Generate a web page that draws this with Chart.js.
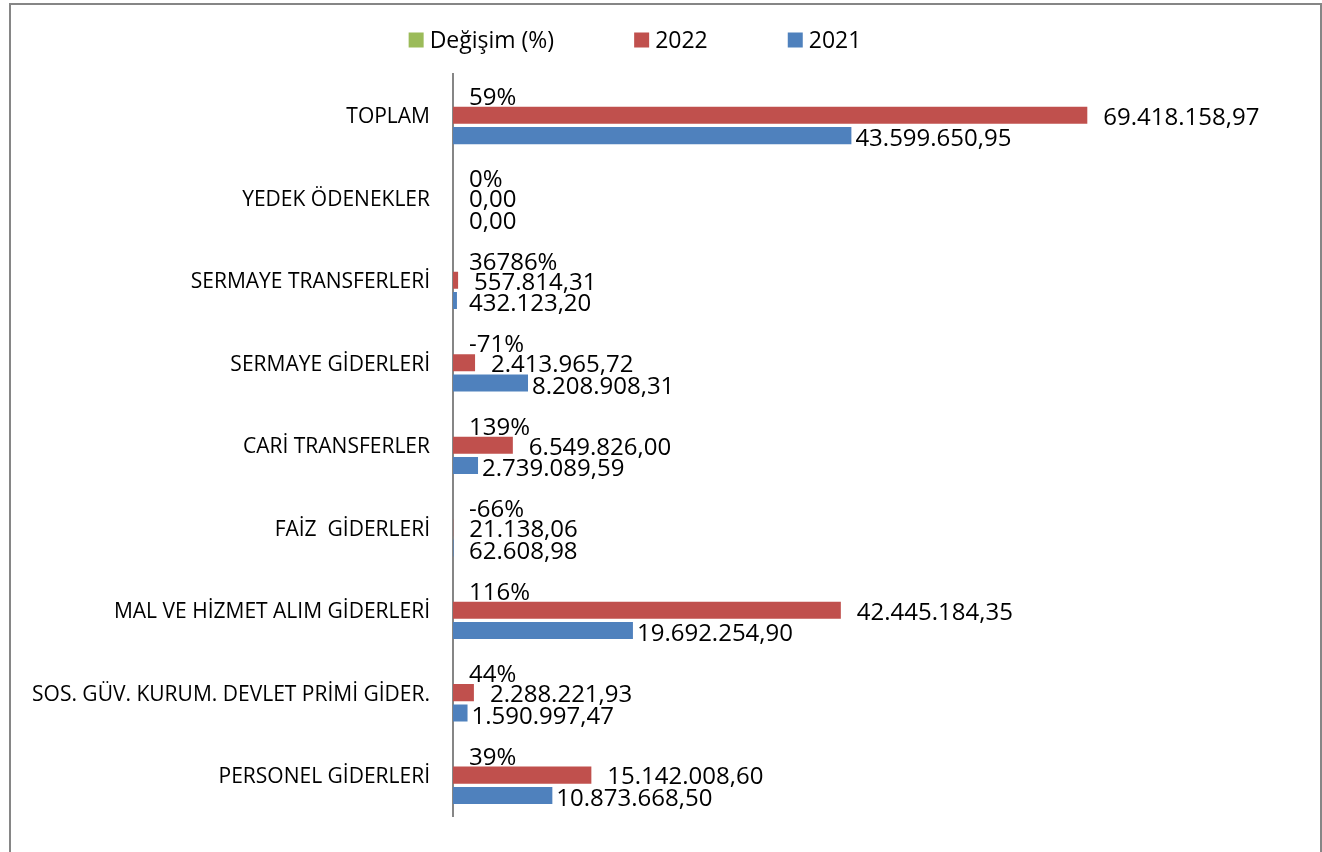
<!DOCTYPE html>
<html>
<head>
<meta charset="utf-8">
<script src="https://cdn.jsdelivr.net/npm/chart.js@4/dist/chart.umd.min.js"></script>
<style>
  html, body { margin: 0; padding: 0; background: #fff; }
  #wrap { position: relative; width: 1322px; height: 852px; overflow: hidden; }
  #frame { position: absolute; left: 9px; top: 3px; width: 1313px; height: 900px; box-sizing: border-box;
           border: 2px solid #868686; border-bottom: none; pointer-events: none; }
  canvas { position: absolute; left: 0; top: 0; }
</style>
</head>
<body>
<div id="wrap">
  <canvas id="c" width="1322" height="852"></canvas>
  <div id="frame"></div>
</div>
<script>
const categories = [
  'TOPLAM',
  'YEDEK ÖDENEKLER',
  'SERMAYE TRANSFERLERİ',
  'SERMAYE GİDERLERİ',
  'CARİ TRANSFERLER',
  'FAİZ  GİDERLERİ',
  'MAL VE HİZMET ALIM GİDERLERİ',
  'SOS. GÜV. KURUM. DEVLET PRİMİ GİDER.',
  'PERSONEL GİDERLERİ'
];
const seriesNames = ['Değişim (%)', '2022', '2021'];
const changeRatio = [0.59, 0, 367.86, -0.71, 1.39, -0.66, 1.16, 0.44, 0.39];
const values2022 = [69418158.97, 0, 557814.31, 2413965.72, 6549826.00, 21138.06, 42445184.35, 2288221.93, 15142008.60];
const values2021 = [43599650.95, 0, 432123.20, 8208908.31, 2739089.59, 62608.98, 19692254.90, 1590997.47, 10873668.50];
const axisMax = 80000000;

const colors = ['#9BBB59', '#C0504D', '#4F81BD'];
const FONT = "'Open Sans', 'Liberation Sans', sans-serif";

function fmtTR(v) {
  const neg = v < 0;
  const s = Math.abs(v).toFixed(2);
  let [ip, dp] = s.split('.');
  ip = ip.replace(/\B(?=(\d{3})+(?!\d))/g, '.');
  return (neg ? '-' : '') + ip + ',' + dp;
}
function fmtPct(v) { return Math.round(v * 100) + '%'; }

const labelPlugin = {
  id: 'valueLabels',
  afterDatasetsDraw(chart) {
    const ctx = chart.ctx;
    ctx.save();
    ctx.font = '24px ' + FONT;
    ctx.fillStyle = '#000';
    ctx.textAlign = 'left';
    ctx.textBaseline = 'middle';
    const left = chart.chartArea.left;
    const dy = [3, 2.5, 4];
    chart.data.datasets.forEach((ds, di) => {
      const meta = chart.getDatasetMeta(di);
      meta.data.forEach((el, i) => {
        const v = ds.data[i];
        const text = di === 0 ? fmtPct(v) : fmtTR(v);
        const end = Math.max(el.x, left);
        let x = end + (di === 2 ? 4 : 16);
        x = Math.max(x, left + 16);
        ctx.fillText(text, x, el.y + dy[di]);
      });
    });
    ctx.restore();
  }
};

const legendPlugin = {
  id: 'topLegend',
  afterDraw(chart) {
    const ctx = chart.ctx;
    ctx.save();
    ctx.font = '23px ' + FONT;
    ctx.textBaseline = 'middle';
    const box = 15, gapText = 6, gapItem = 80, cy = 40;
    const widths = chart.data.datasets.map(ds => box + gapText + ctx.measureText(ds.label).width);
    const total = widths.reduce((a, b) => a + b, 0) + gapItem * (widths.length - 1);
    let x = 635 - total / 2;
    chart.data.datasets.forEach((ds, i) => {
      ctx.fillStyle = ds.backgroundColor;
      ctx.fillRect(x, cy - box / 2, box, box);
      ctx.fillStyle = '#000';
      ctx.fillText(ds.label, x + box + gapText, cy + 1);
      x += widths[i] + gapItem;
    });
    ctx.restore();
  }
};

new Chart(document.getElementById('c'), {
  type: 'bar',
  data: {
    labels: categories,
    datasets: [
      { label: seriesNames[0], data: changeRatio, backgroundColor: colors[0] },
      { label: seriesNames[1], data: values2022, backgroundColor: colors[1] },
      { label: seriesNames[2], data: values2021, backgroundColor: colors[2] }
    ]
  },
  options: {
    indexAxis: 'y',
    responsive: false,
    animation: false,
    devicePixelRatio: 1,
    layout: { padding: { left: 0, right: 138, top: 74, bottom: 23 } },
    datasets: { bar: { categoryPercentage: 0.74, barPercentage: 0.84 } },
    plugins: { legend: { display: false }, tooltip: { enabled: false } },
    scales: {
      x: { display: false, min: 0, max: axisMax },
      y: {
        grid: { display: false, drawTicks: false },
        border: { display: true, color: '#868686', width: 2 },
        ticks: { color: '#000', font: { family: FONT, size: 21 }, padding: 23, labelOffset: 2, autoSkip: false },
        afterFit(scale) { scale.width = 453; }
      }
    }
  },
  plugins: [labelPlugin, legendPlugin]
});
</script>
</body>
</html>
